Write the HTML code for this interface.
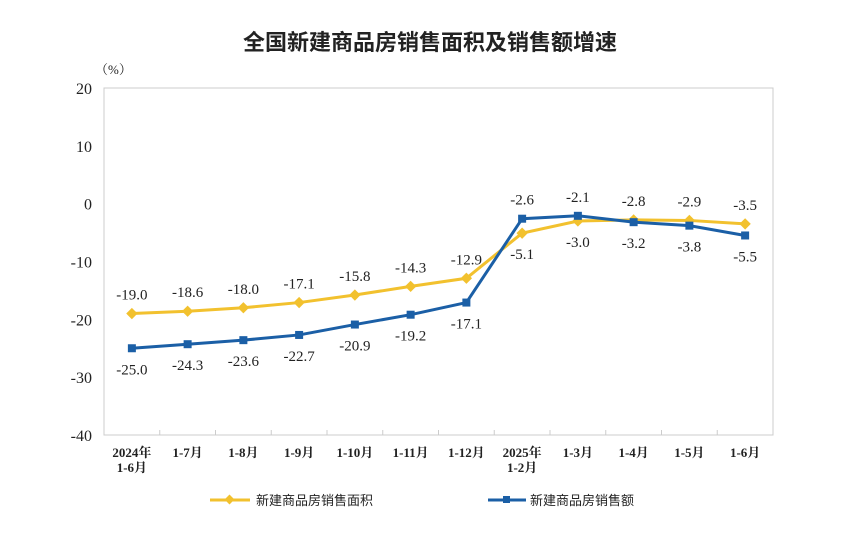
<!DOCTYPE html>
<html><head><meta charset="utf-8"><style>
body{margin:0;background:#fff;}
svg text{font-family:"Liberation Serif","Noto Serif CJK SC",serif;fill:#222;}
</style></head><body>
<svg width="854" height="531" xmlns="http://www.w3.org/2000/svg">
<text x="430" y="50" text-anchor="middle" font-size="22" font-weight="bold" style="font-family:'Liberation Sans','Noto Sans CJK SC',sans-serif">全国新建商品房销售面积及销售额增速</text>
<text x="95" y="74" font-size="13">（%）</text>
<rect x="104" y="88" width="669" height="347" fill="none" stroke="#ccc"/>
<g id="axes"></g><g id="series"></g>
<g>
<line x1="210" y1="500" x2="250" y2="500" stroke="#f2c12e" stroke-width="3"/>
<rect x="226" y="496" width="7" height="7" fill="#f2c12e" transform="rotate(45 229.5 499.5)"/>
<text x="256" y="505" font-size="13" style="font-family:'Liberation Sans','Noto Sans CJK SC',sans-serif">新建商品房销售面积</text>
<line x1="488" y1="500" x2="526" y2="500" stroke="#1b5fa6" stroke-width="3"/>
<rect x="503" y="496" width="7" height="7" fill="#1b5fa6"/>
<text x="530" y="505" font-size="13" style="font-family:'Liberation Sans','Noto Sans CJK SC',sans-serif">新建商品房销售额</text>
</g>
</svg>
<script>
const categories=[["2024年","1-6月"],["1-7月"],["1-8月"],["1-9月"],["1-10月"],["1-11月"],["1-12月"],["2025年","1-2月"],["1-3月"],["1-4月"],["1-5月"],["1-6月"]];
const areaValues=[-19.0,-18.6,-18.0,-17.1,-15.8,-14.3,-12.9,-5.1,-3.0,-2.8,-2.9,-3.5];
const salesValues=[-25.0,-24.3,-23.6,-22.7,-20.9,-19.2,-17.1,-2.6,-2.1,-3.2,-3.8,-5.5];
const areaLabelAbove=[1,1,1,1,1,1,1,0,0,1,1,1];
const salesLabelAbove=[0,0,0,0,0,0,0,1,1,0,0,0];
const yTicks=[20,10,0,-10,-20,-30,-40];
const NS="http://www.w3.org/2000/svg";
const L=104,R=773,T=88,B=435,ymin=-40,ymax=20;
const step=(R-L)/categories.length;
const x=i=>L+step*(i+0.5);
const y=v=>T+(ymax-v)/(ymax-ymin)*(B-T);
function mk(tag,attrs,parent){const e=document.createElementNS(NS,tag);for(const k in attrs)e.setAttribute(k,attrs[k]);parent.appendChild(e);return e;}
const ax=document.getElementById('axes'),se=document.getElementById('series');
yTicks.forEach(v=>{const t=mk('text',{x:92,y:y(v)+6,'text-anchor':'end','font-size':16},ax);t.textContent=v;

});
categories.forEach((c,i)=>{
 if(i>0){const l=mk('line',{x1:L+step*i,x2:L+step*i,y1:B,y2:B-5,stroke:'#ccc'},ax);
 
 }
 c.forEach((s,j)=>{const t=mk('text',{x:x(i),y:B+22+j*15,'text-anchor':'middle','font-size':13,'font-weight':'bold'},ax);t.textContent=s;
 
 });
});
function series(vals,above,color,name,diamond){
 const p=mk('polyline',{points:vals.map((v,i)=>x(i)+','+y(v)).join(' '),fill:'none',stroke:color,'stroke-width':3},se);
 
 
 vals.forEach((v,i)=>{
  const m=mk('rect',{x:x(i)-4,y:y(v)-4,width:8,height:8,fill:color},se);
  if(diamond)m.setAttribute('transform','rotate(45 '+x(i)+' '+y(v)+')');
  
  
  const t=mk('text',{x:x(i),y:above[i]?y(v)-14:y(v)+26,'text-anchor':'middle','font-size':15},se);
  t.textContent=v.toFixed(1);
  
  
 });
}
series(areaValues,areaLabelAbove,'#f2c12e','area',true);
series(salesValues,salesLabelAbove,'#1b5fa6','sales',false);
</script>
</body></html>
